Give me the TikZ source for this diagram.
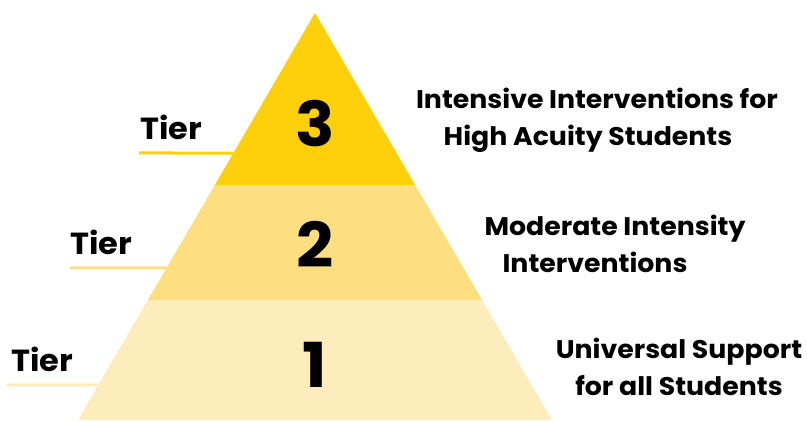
\documentclass[tikz,border=0pt]{standalone}
\usepackage{fontspec}
\setmainfont{Poppins}[UprightFont=* SemiBold,BoldFont=* Bold]
\newfontfamily\widebold{Poppins Bold}[FakeStretch=1.05]
\usetikzlibrary{calc}

\definecolor{tierA}{HTML}{FDECBC}
\definecolor{tierB}{HTML}{FDDF82}
\definecolor{tierC}{HTML}{FDD00B}

\begin{document}
\begin{tikzpicture}[x=1pt,y=-1pt,
  tiername/.style={font=\fontsize{30.5}{34}\widebold,anchor=base west,inner sep=0pt},
  num/.style={font=\fontsize{62}{70}\widebold,anchor=base,inner sep=0pt},
  desc/.style={font=\fontsize{25.5}{37}\widebold,align=center,inner sep=0pt},
  rule/.style={line width=3pt}]
\useasboundingbox (0,0) rectangle (807,422);

% pyramid corners
\coordinate (apex) at (315,13);
\coordinate (bl) at (78,420);
\coordinate (br) at (552,420);
\coordinate (l2) at ($(apex)!0.705!(bl)$);
\coordinate (r2) at ($(apex)!0.705!(br)$);
\coordinate (l3) at ($(apex)!0.4226!(bl)$);
\coordinate (r3) at ($(apex)!0.4226!(br)$);

% the three bands
\fill[tierA] (bl) -- (br) -- (r2) -- (l2) -- cycle;
\fill[tierB] (l2) -- (r2) -- (r3) -- (l3) -- cycle;
\fill[tierC] (l3) -- (r3) -- (apex) -- cycle;

% tier names with their rules
\node[tiername] (t3) at (140,140) {Tier};
\node[tiername] (t2) at (70,255) {Tier};
\node[tiername] (t1) at (11,372) {Tier};
\coordinate (e3) at ($(apex)!0.3440!(bl)$);
\coordinate (e2) at ($(apex)!0.6265!(bl)$);
\coordinate (e1) at ($(apex)!0.9140!(bl)$);
\draw[rule,tierC] (139,153) -- (e3);
\draw[rule,tierB] (70,268) -- (e2);
\draw[rule,tierA] (7,385) -- (e1);

% band numbers
\node[num] (n3) at (315,147) {3};
\node[num] (n2) at (315,268) {2};
\node[num] (n1) at (315,388) {1};

% descriptions (second lines sit a little left)
\node[desc] (d3) at (597,120) {Intensive Interventions for\\High Acuity Students\hspace*{18pt}};
\node[desc] (d2) at (615,244) {Moderate Intensity\\Interventions\hspace*{40pt}};
\node[desc] (d1) at (679,367) {Universal Support\\for all Students};
\end{tikzpicture}
\end{document}
